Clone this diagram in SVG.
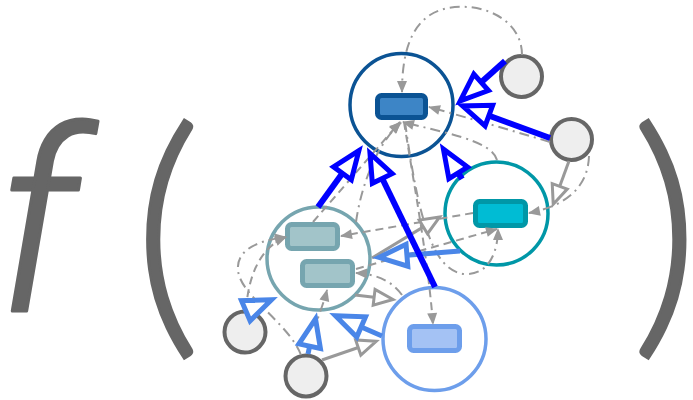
<svg xmlns="http://www.w3.org/2000/svg" width="693" height="400" viewBox="0 0 693 400">
<style>
.big{font-family:Roboto,"Liberation Sans",sans-serif;font-weight:300;font-style:italic;fill:#666666;stroke:#666666;stroke-width:3;stroke-linejoin:round}
.par{font-family:Lato,"Liberation Sans",sans-serif;font-weight:300;fill:#666666;stroke:#666666;stroke-width:3}
.e-blue{fill:none;stroke:#0000ff;stroke-width:6;marker-end:url(#hb)}
.e-med{fill:none;stroke:#4a86e8;stroke-width:5;marker-end:url(#hm)}
.e-gs{fill:none;stroke:#999999;stroke-width:3;marker-end:url(#hg)}
.e-d{fill:none;stroke:#999999;stroke-width:2;stroke-dasharray:8 5;marker-end:url(#fg)}
.e-dd{fill:none;stroke:#999999;stroke-width:2;stroke-dasharray:10 5 2 5;marker-end:url(#fg)}
.small{fill:#eeeeee;stroke:#666666;stroke-width:4}
</style>
<defs>
<marker id="hb" markerUnits="userSpaceOnUse" viewBox="-30 -16 45 32" markerWidth="45" markerHeight="32" refX="0" refY="0" orient="auto" overflow="visible">
<path d="M3,0 L-25,-11 L-25,11 Z" fill="#ffffff" stroke="#0000ff" stroke-width="5"/>
</marker>
<marker id="hm" markerUnits="userSpaceOnUse" viewBox="-30 -16 45 32" markerWidth="45" markerHeight="32" refX="0" refY="0" orient="auto" overflow="visible">
<path d="M3,0 L-25,-11 L-25,11 Z" fill="#ffffff" stroke="#4a86e8" stroke-width="5"/>
</marker>
<marker id="hg" markerUnits="userSpaceOnUse" viewBox="-22 -12 30 24" markerWidth="30" markerHeight="24" refX="0" refY="0" orient="auto" overflow="visible">
<path d="M2,0 L-17,-8 L-17,8 Z" fill="#ffffff" stroke="#999999" stroke-width="3"/>
</marker>
<marker id="fg" markerUnits="userSpaceOnUse" viewBox="-14 -7 16 14" markerWidth="16" markerHeight="14" refX="0" refY="0" orient="auto" overflow="visible">
<path d="M1,0 L-11,-5 L-11,5 Z" fill="#999999"/>
</marker>
</defs>
<rect width="693" height="400" fill="#ffffff"/>

<text class="big" x="-4" y="311" font-size="252">f</text>
<text class="par" x="133" y="323" font-size="266">(</text>
<text class="par" x="631" y="323" font-size="266">)</text>

<g id="nodeA">
<circle cx="401.5" cy="105" r="51.5" fill="#ffffff" stroke="#0b5394" stroke-width="3.5"/>
<rect x="377.5" y="95.5" width="48" height="22" rx="4" fill="#3d85c6" stroke="#0b5394" stroke-width="5"/>
</g>
<g id="nodeB">
<circle cx="496.5" cy="213.5" r="51.5" fill="#ffffff" stroke="#0097a7" stroke-width="3.5"/>
<rect x="475.5" y="201.5" width="50" height="24" rx="4" fill="#00bcd4" stroke="#0097a7" stroke-width="5"/>
</g>
<g id="nodeC">
<circle cx="318.5" cy="258.5" r="51.5" fill="#ffffff" stroke="#76a5af" stroke-width="3.5"/>
<rect x="287.5" y="224.5" width="50" height="24" rx="4" fill="#a2c4c9" stroke="#76a5af" stroke-width="5"/>
<rect x="302.5" y="261.5" width="50" height="24" rx="4" fill="#a2c4c9" stroke="#76a5af" stroke-width="5"/>
</g>
<g id="nodeD">
<circle cx="434.5" cy="339" r="51.5" fill="#ffffff" stroke="#6d9eeb" stroke-width="3.5"/>
<rect x="409.5" y="326.5" width="50" height="24" rx="4" fill="#a4c2f4" stroke="#6d9eeb" stroke-width="5"/>
</g>
<g id="nodeE1"><circle class="small" cx="521.5" cy="76.5" r="20.5"/></g>
<g id="nodeE2"><circle class="small" cx="571.5" cy="139.5" r="20.5"/></g>
<g id="nodeE3"><circle class="small" cx="245" cy="332" r="20.5"/></g>
<g id="nodeE4"><circle class="small" cx="306" cy="376" r="20.5"/></g>

<g id="connectors">
<path class="e-dd" d="M522,55 C522,10 460,-4 430,15 C410,28 402,55 402,92"/>
<path class="e-dd" d="M550,142 Q490,124 429,107"/>
<path class="e-dd" d="M497,160 C492,140 440,132 403,122"/>
<path class="e-d" d="M313,222 L400,122"/>
<path class="e-dd" d="M356,222 C362,180 380,140 401,123"/>
<path class="e-d" d="M404,122 C415,190 428,260 433,324"/>
<path class="e-dd" d="M405,122 C418,215 432,272 465,274 C490,275 498,250 498,229"/>
<path class="e-d" d="M473,213 L341,236"/>
<path class="e-dd" d="M589,156 C588,188 565,206 529,213"/>
<path class="e-d" d="M356,269 L497,229"/>
<path class="e-dd" d="M402,295 C392,281 376,274 356,273"/>
<path class="e-dd" d="M308,354 C312,330 322,310 327,290"/>
<path class="e-d" d="M246,310 C248,280 258,248 286,237"/>
<path class="e-dd" d="M301,355 C288,322 240,296 238,270 C236,248 262,240 286,237"/>

<path class="e-gs" d="M569,161 L553.9,202.3"/>
<path class="e-gs" d="M372,258 L437.9,218.1"/>
<path class="e-gs" d="M355,295 L391,299.3"/>
<path class="e-gs" d="M322,360 L374.3,342"/>

<path class="e-med" d="M460,251 L382,257.2"/>
<path class="e-med" d="M382,336 L338.2,317"/>
<path class="e-med" d="M308,354 L314.9,321.8"/>
<path class="e-med" d="M255,306.8 L268.8,300.9"/>

<path class="e-blue" d="M505,61 L462.5,98.9"/>
<path class="e-blue" d="M550,138 L465.4,107"/>
<path class="e-blue" d="M318,207 L357.1,153.1"/>
<path class="e-blue" d="M435,287 L371.3,156"/>
<path class="e-blue" d="M462,179 L445,151.7"/>
</g>
</svg>
